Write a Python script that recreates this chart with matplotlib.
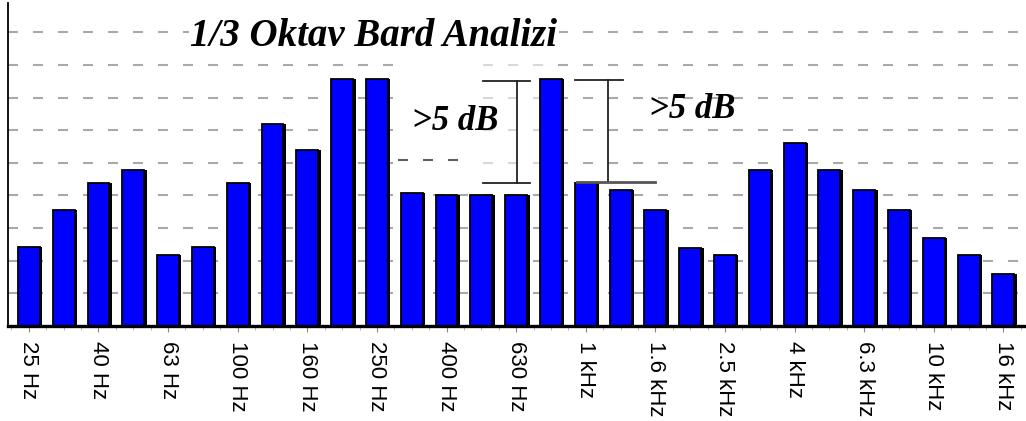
import matplotlib
matplotlib.use("Agg")
import matplotlib.pyplot as plt
import numpy as np
from matplotlib.patches import Rectangle

# ---- data ----
bands = ["25 Hz", "31.5 Hz", "40 Hz", "50 Hz", "63 Hz", "80 Hz", "100 Hz", "125 Hz",
         "160 Hz", "200 Hz", "250 Hz", "315 Hz", "400 Hz", "500 Hz", "630 Hz", "800 Hz",
         "1 kHz", "1.25 kHz", "1.6 kHz", "2 kHz", "2.5 kHz", "3.15 kHz", "4 kHz", "5 kHz",
         "6.3 kHz", "8 kHz", "10 kHz", "12.5 kHz", "16 kHz"]
levels = [2.42, 3.56, 4.39, 4.79, 2.18, 2.43, 4.39, 6.2, 5.4, 7.58, 7.58, 4.09, 4.02,
          4.02, 4.02, 7.58, 4.39, 4.17, 3.56, 2.40, 2.18, 4.79, 5.61, 4.79, 4.17, 3.56,
          2.71, 2.18, 1.6]
shown_labels = ["25 Hz", "40 Hz", "63 Hz", "100 Hz", "160 Hz", "250 Hz", "400 Hz", "630 Hz",
                "1 kHz", "1.6 kHz", "2.5 kHz", "4 kHz", "6.3 kHz", "10 kHz", "16 kHz"]
grid_levels = [1, 2, 3, 4, 5, 6, 7, 8, 9]
title = "1/3 Oktav Bard Analizi"
note = ">5 dB"

plt.rcParams['lines.scale_dashes'] = False

W, H = 1026, 421
fig = plt.figure(figsize=(W / 100, H / 100), dpi=100)
ax = fig.add_axes([8 / W, 95 / H, 1 - 8 / W, 323 / H])

x = np.arange(len(bands))
ax.set_xlim(-0.6, 28.65)
ax.set_ylim(0, 9.9)

# dashed grid
for g in grid_levels:
    ax.axhline(g, color="#a9a9a9", lw=1.5, dashes=(7.2, 10.8), zorder=1)

# white / faded regions behind annotation
ax.add_patch(Rectangle((10.52, 4.1), 2.45, 3.95, facecolor="white", edgecolor="none", zorder=1.5))
ax.add_patch(Rectangle((12.97, 4.1), 1.8, 4.1, facecolor="white", edgecolor="none", alpha=0.55, zorder=1.5))
ax.plot([10.6, 12.4], [5.09, 5.09], color="#606060", lw=1.5, dashes=(7.2, 10.8), zorder=1.6)

# bars with right shadow
bw = 0.63
ax.bar(x + 0.07, levels, width=bw, color="black", zorder=2)
ax.bar(x, levels, width=bw, color="#0000ff", edgecolor="black", linewidth=1.3, zorder=3)

# brackets
lk = dict(color="#222222", lw=1.3, zorder=4)
ax.plot([14.02, 14.02], [4.39, 7.52], **lk)
ax.plot([13.05, 14.4], [7.52, 7.52], **lk)
ax.plot([13.05, 14.4], [4.39, 4.39], **lk)
ax.plot([16.64, 16.64], [4.42, 7.55], **lk)
ax.plot([15.69, 17.07], [7.55, 7.55], **lk)
ax.plot([15.75, 17.99], [4.42, 4.42], color="#555555", lw=2.0, zorder=4)

# texts
tf = dict(family="Liberation Serif", weight="bold", style="italic")
fig.text(374 / W, 1 - 36 / H, title, fontsize=28, ha="center", va="center",
         bbox=dict(facecolor="white", edgecolor="none", pad=1), **tf)
ax.text(12.25, (326 - 122) / 32.6, note, fontsize=25, ha="center", va="center", zorder=5, **tf)
ax.text(19.05, (326 - 110) / 32.6, note, fontsize=25, ha="center", va="center", zorder=5, **tf)

# axes styling
for s in ["top", "right"]:
    ax.spines[s].set_visible(False)
ax.spines["bottom"].set_linewidth(2.4)
ax.spines["bottom"].set_zorder(6)
ax.spines["left"].set_linewidth(1.3)
ax.set_yticks([])
ax.set_xticks(x[::2])
ax.set_xticklabels(shown_labels, rotation=270, family="Liberation Sans", fontsize=16)
ax.set_xticks(np.arange(-0.5, 28.6, 0.5), minor=True)
ax.tick_params(axis="x", which="major", length=4, color="#888888", pad=7)
ax.tick_params(axis="x", which="minor", length=3, color="#aaaaaa")
for lab in ax.get_xticklabels():
    lab.set_va("top")
    lab.set_ha("center")

fig.savefig("out.png", dpi=100)
